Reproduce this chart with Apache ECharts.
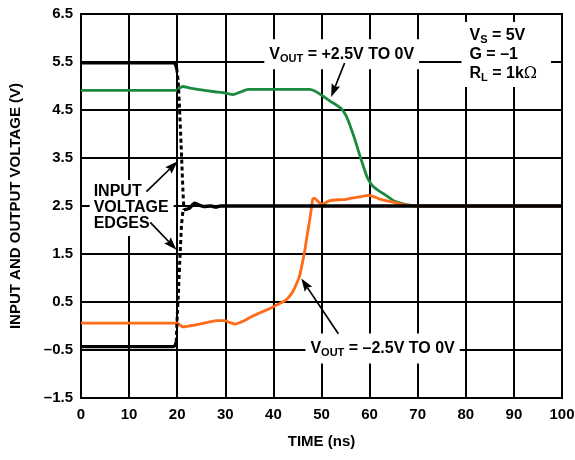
<!DOCTYPE html>
<html><head><meta charset="utf-8">
<script src="https://cdn.jsdelivr.net/npm/echarts@6/dist/echarts.min.js"></script>
<style>html,body{margin:0;padding:0;background:#fff}#c{width:575px;height:460px}</style>
</head><body><div id="c"></div>
<script>
// ---- data (time in ns, voltage in V) ----
const xMin = 0, xMax = 100, xStep = 10;
const yMin = -1.5, yMax = 6.5, yStep = 1;
const xTitle = 'TIME (ns)';
const yTitle = 'INPUT AND OUTPUT VOLTAGE (V)';

const inputHighSolid = [[0,5.48],[19.2,5.48],[19.6,5.45],[19.9,5.36]];
const inputHighDashed = [[19.9,5.36],[20.2,5.1],[20.5,4.5],[20.8,3.8],[21.0,3.3],[21.2,2.8],[21.4,2.42]];
const inputLowSolid = [[0,-0.43],[19.0,-0.43],[19.5,-0.41],[19.8,-0.33]];
const inputLowDashed = [[19.8,-0.33],[20.0,0.2],[20.3,0.8],[20.6,1.5],[20.9,2.1],[21.2,2.4]];
const inputSettled = [[21.4,2.42],[22.5,2.45],[23.6,2.56],[24.5,2.52],[25.5,2.49],[27,2.5],[28,2.48],[29,2.5],[100,2.5]];

const voutPos = [[0,4.91],[19.8,4.91],[20.5,4.96],[21.2,4.99],[22.5,4.96],[24.3,4.93],[27.8,4.88],[30,4.85],[31.6,4.82],[32.5,4.85],[33.3,4.88],[34.7,4.93],[40,4.93],[45,4.93],[47.5,4.93],[48.5,4.9],[50,4.81],[51.7,4.69],[53,4.61],[54.1,4.53],[55,4.4],[55.5,4.29],[56.2,4.1],[56.9,3.9],[57.6,3.67],[58.3,3.45],[59,3.24],[59.5,3.1],[60.1,2.99],[60.7,2.91],[61.7,2.83],[62.8,2.76],[64,2.68],[65.2,2.6],[66.5,2.56],[67.6,2.53],[69,2.51],[71,2.5],[100,2.5]];

const voutNeg = [[0,0.06],[20,0.06],[20.5,0.03],[21.2,-0.02],[22.5,0.0],[24.6,0.04],[26.5,0.08],[28.4,0.11],[29.8,0.11],[31,0.07],[32.1,0.04],[33,0.07],[34.1,0.12],[35.5,0.2],[37.1,0.27],[38.7,0.34],[40.2,0.41],[41.3,0.47],[42.3,0.52],[43,0.58],[43.8,0.68],[44.4,0.79],[45.4,1.03],[46,1.3],[46.5,1.56],[47,1.88],[47.5,2.18],[47.9,2.45],[48.2,2.65],[48.6,2.66],[49.1,2.61],[49.7,2.56],[50.3,2.54],[51,2.58],[51.7,2.61],[53.5,2.63],[55.1,2.64],[57.9,2.69],[59.8,2.72],[61,2.69],[62,2.65],[64.8,2.58],[67.6,2.52],[70,2.5],[100,2.5]];

// annotation arrows: [from, to] in data coordinates
const arrows = [
  [[54.8,5.48],[52.0,4.77]],
  [[53.5,-0.16],[45.8,0.99]],
  [[13.6,2.80],[20.1,3.43]],
  [[14.4,2.16],[19.85,1.59]]
];

const FONT = '"Liberation Sans", Arial, Helvetica, sans-serif';
const GREEN = '#1b8a3f', ORANGE = '#ff6b18';

const chart = echarts.init(document.getElementById('c'), null, {renderer:'canvas'});
const fmt = v => (v < 0 ? '\u2013' : '') + Math.abs(v).toFixed(1);

function lineSeries(data, color, width, dashed, z) {
  return {
    type:'line', data, symbol:'none', smooth:0.2, z: z || 3,
    lineStyle:{color, width, type: dashed ? [4,3] : 'solid', cap:'butt', join:'round'},
    silent:true
  };
}

const option = {
  animation:false,
  backgroundColor:'#fff',
  grid:{left:81, right:13, top:14, bottom:62, outerBoundsMode:'none', containLabel:false,
        show:true, borderColor:'#000', borderWidth:2, backgroundColor:'transparent'},
  xAxis:{
    type:'value', min:xMin, max:xMax, interval:xStep,
    name:xTitle, nameLocation:'middle', nameGap:36,
    nameTextStyle:{fontFamily:FONT, fontWeight:'bold', fontSize:15, color:'#000'},
    axisLine:{show:true, onZero:false, lineStyle:{color:'#000', width:2}},
    axisTick:{show:false},
    axisLabel:{fontFamily:FONT, fontWeight:'bold', fontSize:15, color:'#000', margin:9},
    splitLine:{show:true, lineStyle:{color:'#000', width:2}}
  },
  yAxis:{
    type:'value', min:yMin, max:yMax, interval:yStep,
    name:yTitle, nameLocation:'middle', nameGap:58,
    nameTextStyle:{fontFamily:FONT, fontWeight:'bold', fontSize:15, color:'#000'},
    axisLine:{show:true, onZero:false, lineStyle:{color:'#000', width:2}},
    axisTick:{show:false},
    axisLabel:{fontFamily:FONT, fontWeight:'bold', fontSize:15, color:'#000', margin:8, formatter:fmt},
    splitLine:{show:true, lineStyle:{color:'#000', width:2}}
  },
  series:[
    lineSeries(voutPos, GREEN, 2.8),
    lineSeries(voutNeg, ORANGE, 2.8),
    lineSeries(inputHighSolid, '#000', 3.2),
    lineSeries(inputLowSolid, '#000', 3.2),
    lineSeries(inputSettled, '#000', 3.4),
    lineSeries(inputHighDashed, '#000', 3, true, 4),
    lineSeries(inputLowDashed, '#000', 3, true, 4)
  ]
};
chart.setOption(option);

const px = (t, v) => chart.convertToPixel({gridIndex:0}, [t, v]);
const rich = {
  m:{fontFamily:FONT, fontWeight:'bold', fontSize:16, color:'#000'},
  s:{fontFamily:FONT, fontWeight:'bold', fontSize:11, color:'#000', padding:[9,0,0,0]},
  o:{fontFamily:'"DejaVu Serif", serif', fontSize:16, color:'#000'}
};
function label(t, v, text, align, extra) {
  const p = px(t, v);
  return {
    type:'text', x:p[0], y:p[1], z:1, silent:true,
    style:Object.assign({text, rich, align, verticalAlign:'middle', backgroundColor:'#fff', padding:[5,5,5,5]}, extra||{})
  };
}
function arrow(a) {
  const p0 = px(a[0][0], a[0][1]), p1 = px(a[1][0], a[1][1]);
  const dx = p1[0]-p0[0], dy = p1[1]-p0[1], L = Math.hypot(dx, dy);
  const ux = dx/L, uy = dy/L, nx = -uy, ny = ux;
  const hl = 13, hw = 4.5;
  const bx = p1[0]-ux*hl, by = p1[1]-uy*hl;
  return [
    {type:'line', z:10, silent:true, shape:{x1:p0[0], y1:p0[1], x2:bx+ux*2, y2:by+uy*2},
     style:{stroke:'#000', lineWidth:1.7}},
    {type:'polygon', z:10, silent:true,
     shape:{points:[[p1[0],p1[1]],[bx+nx*hw,by+ny*hw],[bx+ux*2,by+uy*2],[bx-nx*hw,by-ny*hw]]},
     style:{fill:'#000'}}
  ];
}
chart.setOption({
  graphic:[
    label(54.2, 5.66, '{m|V}{s|OUT}{m| = +2.5V TO 0V}', 'center'),
    label(62.7, -0.47, '{m|V}{s|OUT}{m| = \u20132.5V TO 0V}', 'center'),
    label(79.1, 5.655, '{m|V}{s|S}{m| = 5V}\n{m|G = \u20131}\n{m|R}{s|L}{m| = 1k}{o|\u03a9}', 'left', {lineHeight:19, padding:[4,14,4,8]}),
    label(1.8, 2.46, '{m|INPUT}\n{m|VOLTAGE}\n{m|EDGES}', 'left', {lineHeight:16, padding:[4,5,4,4]})
  ].concat(...arrows.map(arrow))
});
</script>
</body></html>
